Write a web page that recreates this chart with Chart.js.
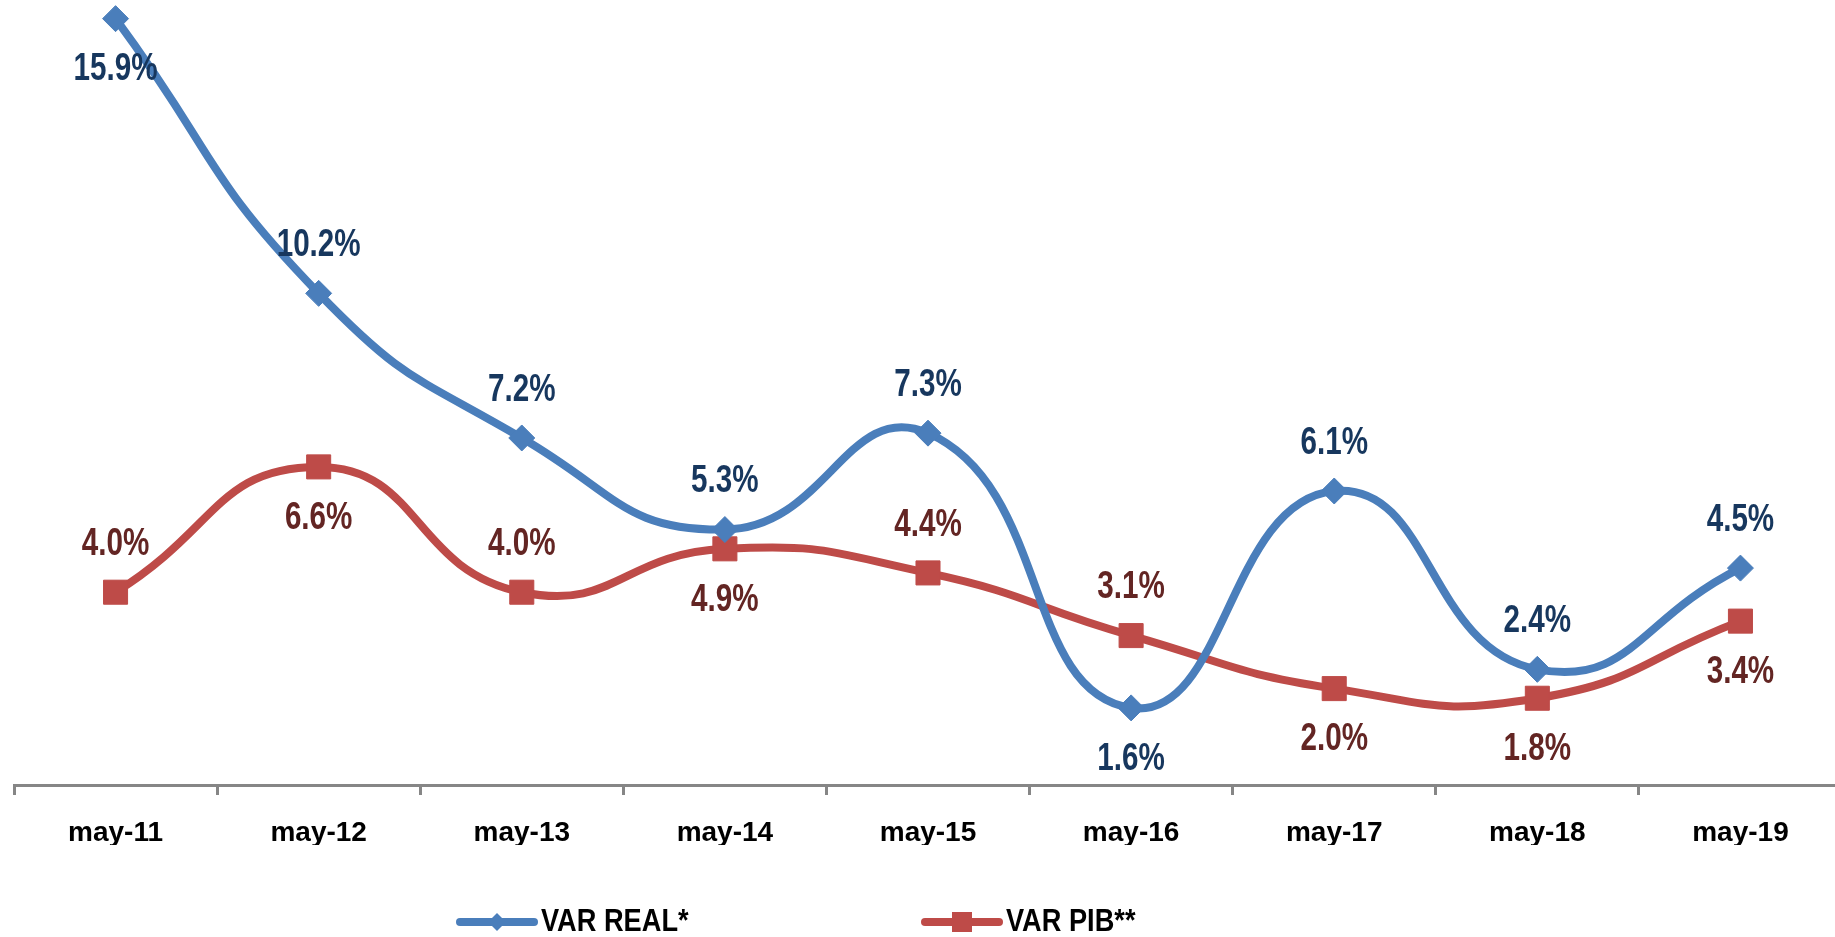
<!DOCTYPE html>
<html>
<head>
<meta charset="utf-8">
<script src="https://cdn.jsdelivr.net/npm/chart.js@4/dist/chart.umd.min.js"></script>
<style>
  html, body { margin: 0; padding: 0; background: #fff; overflow: hidden; }
  #wrap { width: 1842px; height: 937px; }
</style>
</head>
<body>
<div id="wrap"><canvas id="myChart" width="1842" height="937"></canvas></div>
<script>
const categories = ['may-11', 'may-12', 'may-13', 'may-14', 'may-15', 'may-16', 'may-17', 'may-18', 'may-19'];
const varReal = [15.9, 10.2, 7.2, 5.3, 7.3, 1.6, 6.1, 2.4, 4.5];
const varPib = [4.0, 6.6, 4.0, 4.9, 4.4, 3.1, 2.0, 1.8, 3.4];
// which side of the point each value label sits on
const realLabelSide = ['below', 'above', 'above', 'above', 'above', 'below', 'above', 'above', 'above'];
const pibLabelSide = ['above', 'below', 'above', 'below', 'above', 'above', 'below', 'below', 'below'];

const FONT = '"Liberation Sans", Arial, sans-serif';

// narrow-looking text: squeeze the glyphs horizontally
function narrowText(ctx, text, x, y, squeeze) {
  ctx.save();
  ctx.translate(x, y);
  ctx.scale(squeeze, 1);
  ctx.fillText(text, 0, 0);
  ctx.restore();
}

// value labels next to each point
const valueLabels = {
  id: 'valueLabels',
  afterDatasetsDraw(chart) {
    const ctx = chart.ctx;
    ctx.save();
    ctx.font = 'bold 39px ' + FONT;
    ctx.textAlign = 'center';
    ctx.textBaseline = 'middle';
    chart.data.datasets.forEach((ds, i) => {
      const meta = chart.getDatasetMeta(i);
      ctx.fillStyle = ds.labelColor;
      meta.data.forEach((pt, j) => {
        const dy = ds.labelSide[j] === 'above' ? -48 : 51;
        narrowText(ctx, ds.data[j].toFixed(1) + '%', pt.x, pt.y + dy, 0.76);
      });
    });
    ctx.restore();
  }
};

// legend drawn by hand so it can sit off-centre like the original
const bottomLegend = {
  id: 'bottomLegend',
  afterDraw(chart) {
    const ctx = chart.ctx;
    const y = 922;
    const startX = [456, 921];
    ctx.save();
    chart.data.datasets.forEach((ds, i) => {
      const x0 = startX[i];
      ctx.strokeStyle = ds.borderColor;
      ctx.lineWidth = 8;
      ctx.lineCap = 'round';
      ctx.beginPath();
      ctx.moveTo(x0 + 4, y);
      ctx.lineTo(x0 + 78, y);
      ctx.stroke();
      ctx.fillStyle = ds.backgroundColor;
      const cx = x0 + 41;
      ctx.beginPath();
      if (ds.pointStyle === 'rectRot') {
        ctx.moveTo(cx, y - 9);
        ctx.lineTo(cx + 9, y);
        ctx.lineTo(cx, y + 9);
        ctx.lineTo(cx - 9, y);
        ctx.closePath();
      } else {
        ctx.rect(cx - 10, y - 10, 20, 20);
      }
      ctx.fill();
      ctx.fillStyle = '#000';
      ctx.font = 'bold 32px ' + FONT;
      ctx.textAlign = 'left';
      ctx.textBaseline = 'middle';
      narrowText(ctx, ds.label, x0 + 85, y, 0.85);
    });
    ctx.restore();
  }
};

new Chart('myChart', {
  type: 'line',
  data: {
    labels: categories,
    datasets: [{
      label: 'VAR REAL*',
      data: varReal,
      borderColor: '#4A7EBB',
      backgroundColor: '#4A7EBB',
      borderWidth: 8,
      tension: 0.5,
      pointStyle: 'rectRot',
      pointRadius: 13,
      pointBorderWidth: 1,
      clip: false,
      labelColor: '#17375E',
      labelSide: realLabelSide
    }, {
      label: 'VAR PIB**',
      data: varPib,
      borderColor: '#BE4B48',
      backgroundColor: '#BE4B48',
      borderWidth: 8,
      tension: 0.5,
      pointStyle: 'rect',
      pointRadius: 17,
      pointBorderWidth: 1,
      clip: false,
      labelColor: '#632523',
      labelSide: pibLabelSide
    }]
  },
  options: {
    responsive: false,
    animation: false,
    events: [],
    layout: { autoPadding: false, padding: { left: 14, right: 0, top: 9, bottom: 92 } },
    plugins: {
      legend: { display: false },
      tooltip: { enabled: false }
    },
    scales: {
      y: { display: false, min: 0, max: 16.1 },
      x: {
        offset: true,
        grid: { offset: true, drawOnChartArea: false, tickLength: 10, tickColor: '#868686', tickWidth: 3 },
        border: { color: '#868686', width: 3 },
        ticks: {
          color: '#000',
          padding: 21,
          maxRotation: 0,
          autoSkip: false,
          font: { family: FONT, size: 28, weight: 'bold' }
        },
        afterFit(scale) { scale.height = 60; }
      }
    }
  },
  plugins: [valueLabels, bottomLegend]
});
</script>
</body>
</html>
